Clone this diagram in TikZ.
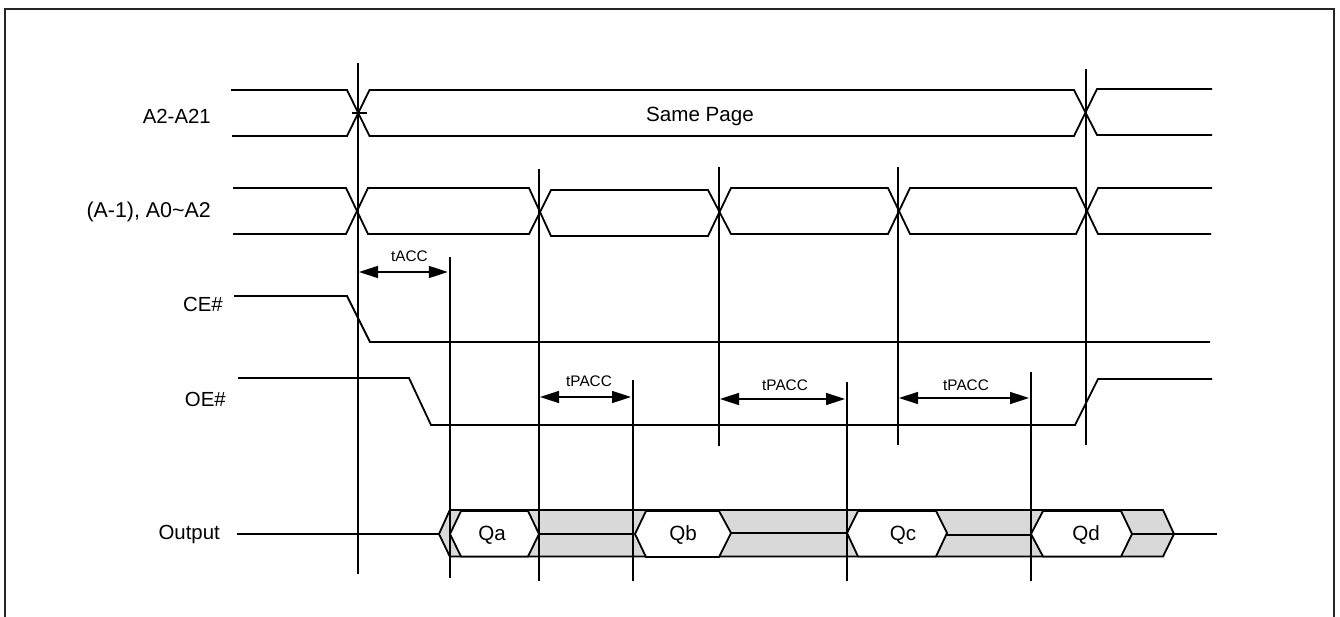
\documentclass[tikz,border=0pt]{standalone}
\usepackage{fontspec}
\setmainfont{Liberation Sans}
\usetikzlibrary{arrows.meta}
\definecolor{busgray}{gray}{0.85}
\tikzset{
  wave/.style={line width=1.8pt,black,line join=miter},
  guide/.style={line width=1.8pt,black},
  busfill/.style={fill=busgray,draw=none},
  hexbox/.style={fill=white,draw=black,line width=1.8pt,line join=miter},
  span/.style={line width=1.5pt,{Triangle[length=19pt,width=12pt]}-{Triangle[length=19pt,width=12pt]},shorten >=2pt,shorten <=1pt},
  siglabel/.style={font=\fontsize{20.4}{24}\selectfont,anchor=east,inner sep=0pt},
  widelabel/.style={font=\fontsize{21.4}{24}\selectfont,anchor=east,inner sep=0pt},
  smalllabel/.style={font=\fontsize{15.3}{18}\selectfont,inner sep=0pt},
  datalabel/.style={font=\fontsize{20.6}{24}\selectfont,inner sep=0pt},
}
\begin{document}
\begin{tikzpicture}[x=1pt,y=-1pt]
\useasboundingbox (0,0) rectangle (1340,617);
\draw[line width=1.2pt,black!85] (5,617) -- (5,9) -- (1334,9) -- (1334,617);

% output bus
\fill[busfill] (439,533.5) -- (449.8,510) -- (1163,510) -- (1174,534) -- (1163,556.5) -- (449.8,556.5) -- cycle;
\draw[wave] (237,534) -- (439,534) -- (449.8,510) -- (1163,510) -- (1174,534) -- (1163,556.5) -- (449.8,556.5) -- (439,534);
\draw[wave] (539,534) -- (633,534);
\draw[wave] (731,533) -- (847,533);
\draw[wave] (947,535) -- (1031,535);
\draw[wave] (1132,534) -- (1217,534);
\draw[hexbox] (450,534) -- (461,511) -- (528,511) -- (539,534) -- (528,556.5) -- (461,556.5) -- cycle;
\draw[hexbox] (635,534) -- (646,511) -- (719,511) -- (731,533) -- (719,557) -- (646,557) -- cycle;
\draw[hexbox] (847,533) -- (858,511) -- (936,511) -- (947,533) -- (936,556.5) -- (858,556.5) -- cycle;
\draw[hexbox] (1031,534) -- (1043,511) -- (1121,511) -- (1132,534) -- (1121,556.5) -- (1043,556.5) -- cycle;

% guides
\draw[guide] (358,63) -- (358,574);
\draw[guide] (1086,69) -- (1086,445);
\draw[guide] (539,169) -- (539,581);
\draw[guide] (719,167) -- (719,446);
\draw[guide] (898,167) -- (898,445);
\draw[guide] (449.8,257) -- (449.8,578);
\draw[guide] (633,380) -- (633,581);
\draw[guide] (847,382) -- (847,581);
\draw[guide] (1031,372) -- (1031,581);

% A2-A21
\draw[wave] (231,90) -- (347,90) -- (369.5,136) -- (1074,136) -- (1097,89) -- (1212,89);
\draw[wave] (232,136) -- (347,136) -- (369.5,90) -- (1074,90) -- (1097,135) -- (1212,135);
\draw[line width=1.2pt] (352,113) -- (367,113);

% (A-1), A0~A2
\draw[wave] (233,188) -- (346,188) -- (368,234) -- (529,234) -- (551,190) -- (708,190) -- (731,234) -- (888,234) -- (910,188) -- (1076,188) -- (1098,234) -- (1211,234);
\draw[wave] (233,234) -- (346,234) -- (368,188) -- (529,188) -- (551,236) -- (708,236) -- (731,188) -- (888,188) -- (910,234) -- (1076,234) -- (1098,188) -- (1212,188);

% CE#, OE#
\draw[wave] (234,296) -- (347,296) -- (370,342) -- (1210,342);
\draw[wave] (238,378) -- (409,378) -- (431,425) -- (1075,425) -- (1098,379) -- (1212,379);

% timing spans
\coordinate (a1) at (358,272); \coordinate (a2) at (449.8,272);
\coordinate (b1) at (539,397); \coordinate (b2) at (633,397);
\coordinate (c1) at (719,399); \coordinate (c2) at (847,399);
\coordinate (d1) at (898,398); \coordinate (d2) at (1031,398);
\draw[span] (a1) -- (a2);
\draw[span] (b1) -- (b2);
\draw[span] (c1) -- (c2);
\draw[span] (d1) -- (d2);

% labels
\node[siglabel] (l1) at (211,116) {A2-A21};
\node[widelabel] (l2) at (211,212) {(A-1), A0\textasciitilde A2};
\node[siglabel] (l3) at (223,304) {CE\#};
\node[siglabel] (l4) at (226,399) {OE\#};
\node[siglabel] (l5) at (220,534) {Output};
\node[datalabel] (same) at (700,116) {Same Page};
\node[smalllabel] (t1) at (409.5,256) {tACC};
\node[smalllabel] (t2) at (589,381) {tPACC};
\node[smalllabel] (t3) at (785,385) {tPACC};
\node[smalllabel] (t4) at (966,385) {tPACC};
\node[datalabel] (qa) at (492,535) {Qa};
\node[datalabel] (qb) at (683,535) {Qb};
\node[datalabel] (qc) at (903,535) {Qc};
\node[datalabel] (qd) at (1086,535) {Qd};
\end{tikzpicture}
\end{document}
